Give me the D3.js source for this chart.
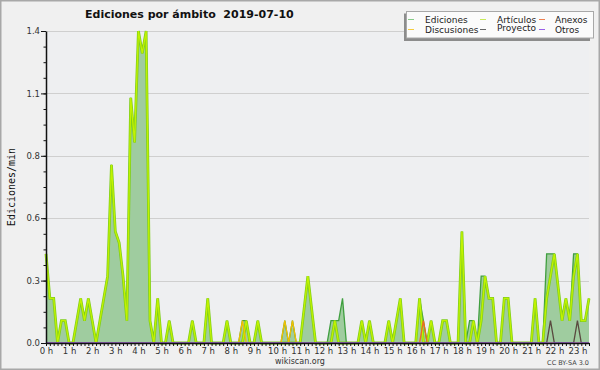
<!DOCTYPE html>
<html>
<head>
<meta charset="utf-8">
<script src="https://cdn.jsdelivr.net/npm/d3@7/dist/d3.min.js"></script>
<style>
  body { margin: 0; background: #f0f0f0; }
  svg { display: block; }
  text { font-family: "DejaVu Sans", sans-serif; }
</style>
</head>
<body>
<div id="chart"></div>
<script>
'use strict'

// ediciones/min por tramo de 10 minutos, de 0:00 a 23:30 (una fila = 4 horas)
let ediciones = [
  0.4,0.2,0.2,0,0.1,0.1, 0,0,0.1,0.2,0.1,0.2, 0.1,0,0.1,0.2,0.3,0.8, 0.5,0.45,0.3,0.1,1.1,0.9,
  1.4,1.3,1.4,0.1,0,0.2, 0,0,0.1,0,0,0, 0,0,0.1,0,0,0, 0.2,0,0,0,0,0.1,
  0,0,0,0.1,0.1,0, 0,0.1,0,0,0,0, 0,0,0.1,0,0.1,0, 0,0.15,0.3,0.15,0,0,
  0,0,0.1,0.1,0.1,0.2, 0,0,0,0,0.1,0, 0.1,0,0,0,0,0.1, 0,0.1,0.2,0,0,0,
  0,0.2,0.1,0,0.1,0, 0,0.1,0.1,0,0,0, 0.5,0,0.1,0.1,0,0.3, 0.3,0.2,0.2,0,0,0.2,
  0.2,0,0,0,0,0, 0,0.2,0,0,0.4,0.4, 0.4,0.25,0.1,0.2,0.1,0.4, 0.4,0.1,0.1,0.2
];
let articulos = [
  0.4,0.2,0.2,0,0.1,0.1, 0,0,0.1,0.2,0.1,0.2, 0.1,0,0.1,0.2,0.3,0.8, 0.5,0.45,0.3,0.1,1.1,0.9,
  1.4,1.3,1.4,0.1,0,0.2, 0,0,0.1,0,0,0, 0,0,0.1,0,0,0, 0.2,0,0,0,0,0.1,
  0,0,0,0,0.1,0, 0,0.1,0,0,0,0, 0,0,0,0,0,0, 0,0.15,0.3,0.15,0,0,
  0,0,0,0.1,0,0, 0,0,0,0,0.1,0, 0.1,0,0,0,0,0.1, 0,0.1,0.2,0,0,0,
  0,0.2,0,0,0.1,0, 0,0.1,0.1,0,0,0, 0.5,0,0,0.1,0,0.1, 0.3,0.2,0.2,0,0,0.2,
  0.2,0,0,0,0,0, 0,0.2,0,0,0.2,0.3, 0.4,0.25,0.1,0.2,0.1,0.3, 0.4,0.1,0.1,0.2
];
let anexos = [
  0,0,0,0,0,0, 0,0,0,0,0,0, 0,0,0,0,0,0, 0,0,0,0,0,0,
  0,0,0,0,0,0, 0,0,0,0,0,0, 0,0,0,0,0,0, 0,0,0,0,0,0,
  0,0,0,0,0,0, 0,0,0,0,0,0, 0,0,0,0,0,0, 0,0,0,0,0,0,
  0,0,0,0,0,0, 0,0,0,0,0,0, 0,0,0,0,0,0, 0,0,0,0,0,0,
  0,0,0.1,0,0,0, 0,0,0,0,0,0, 0,0,0,0,0,0, 0,0,0,0,0,0,
  0,0,0,0,0,0, 0,0,0,0,0,0, 0,0,0,0,0,0, 0,0,0,0
];
let discusiones = [
  0,0,0,0,0,0, 0,0,0,0,0,0, 0,0,0,0,0,0, 0,0,0,0,0,0,
  0,0,0,0,0,0, 0,0,0,0,0,0, 0,0,0,0,0,0, 0,0,0,0,0,0,
  0,0,0,0.1,0,0, 0,0,0,0,0,0, 0,0,0.1,0,0.1,0, 0,0,0,0,0,0,
  0,0,0,0,0,0, 0,0,0,0,0,0, 0,0,0,0,0,0, 0,0,0,0,0,0,
  0,0,0,0,0,0, 0,0,0,0,0,0, 0,0,0,0,0,0, 0,0,0,0,0,0,
  0,0,0,0,0,0, 0,0,0,0,0,0, 0,0,0,0,0,0, 0,0,0,0
];
let proyecto = [
  0,0,0,0,0,0, 0,0,0,0,0,0, 0,0,0,0,0,0, 0,0,0,0,0,0,
  0,0,0,0,0,0, 0,0,0,0,0,0, 0,0,0,0,0,0, 0,0,0,0,0,0,
  0,0,0,0,0,0, 0,0,0,0,0,0, 0,0,0,0,0,0, 0,0,0,0,0,0,
  0,0,0,0,0,0, 0,0,0,0,0,0, 0,0,0,0,0,0, 0,0,0,0,0,0,
  0,0,0,0,0,0, 0,0,0,0,0,0, 0,0,0,0,0,0, 0,0,0,0,0,0,
  0,0,0,0,0,0, 0,0,0,0,0,0.1, 0,0,0,0,0,0, 0.1,0,0,0
];
let otros = [
  0,0,0,0,0,0, 0,0,0,0,0,0, 0,0,0,0,0,0, 0,0,0,0,0,0,
  0,0,0,0,0,0, 0,0,0,0,0,0, 0,0,0,0,0,0, 0,0,0,0,0,0,
  0,0,0,0,0,0, 0,0,0,0,0,0, 0,0,0,0,0,0, 0,0,0,0,0,0,
  0,0,0,0,0,0, 0,0,0,0,0,0, 0,0,0,0,0,0, 0,0,0,0,0,0,
  0,0,0,0,0,0, 0,0,0,0,0,0, 0,0,0,0,0,0, 0,0,0,0,0,0,
  0,0,0,0,0,0, 0,0,0,0,0,0, 0,0,0,0,0,0, 0,0,0,0
];

let hours = d3.range(0, 24);
let hourLabels = hours.map(h => h + ' h');
let yTicks = [0, 0.28, 0.56, 0.84, 1.12, 1.4];
let yTickLabels = ['0.0', '0.3', '0.6', '0.8', '1.1', '1.4'];
let legendNames = ['Ediciones', 'Artículos', 'Anexos', 'Discusiones', 'Proyecto', 'Otros'];
let legendColors = ['#88cc88', '#c8ea5a', '#ee8050', '#f5cc40', '#666666', '#9a60e8'];

let width = 600, height = 370;
let margin = {top: 31, right: 11, bottom: 27, left: 46};

let svg = d3.select('#chart')
  .append('svg')
  .attr('width', width)
  .attr('height', height);

svg.append('rect')
  .attr('x', 0.75).attr('y', 0.75)
  .attr('width', width - 1.5).attr('height', height - 1.5)
  .attr('fill', '#f0f0f0')
  .attr('stroke', '#a8a8a8')
  .attr('stroke-width', 1.5);

// slot i = i*10 minutos
let slots = ediciones.map((d, i) => i / 6);

let x = d3.scaleLinear().domain([0, d3.max(slots)]).range([margin.left, width - margin.right]),
    y = d3.scaleLinear().domain([0, 1.4]).range([height - margin.bottom, margin.top]);

svg.append('rect')
  .attr('x', x(0)).attr('y', y(1.4))
  .attr('width', x.range()[1] - x(0)).attr('height', y(0) - y(1.4))
  .attr('fill', '#eeeff1');

// rejilla
svg.append('g')
  .selectAll('line')
  .data(yTicks.slice(1))
  .enter().append('line')
  .attr('x1', x(0)).attr('x2', x.range()[1])
  .attr('y1', d => Math.round(y(d)) + 0.5).attr('y2', d => Math.round(y(d)) + 0.5)
  .attr('stroke', '#cfcfcf')
  .attr('stroke-width', 1);

let area = d3.area()
  .x((d, i) => x(slots[i]))
  .y0(y(0))
  .y1(d => y(d));

let line = d3.line()
  .x((d, i) => x(slots[i]))
  .y(d => y(d));

svg.append('path')
  .datum(ediciones)
  .attr('d', area)
  .attr('fill', '#9fcc9f');

svg.append('path')
  .datum(ediciones)
  .attr('d', line)
  .attr('fill', 'none')
  .attr('stroke', '#3f9f3f')
  .attr('stroke-width', 1.3);

// artículos: trazo ancho con centro claro
svg.append('path')
  .datum(articulos)
  .attr('d', line)
  .attr('fill', 'none')
  .attr('stroke', '#7fcf1a')
  .attr('stroke-width', 2.8);
svg.append('path')
  .datum(articulos)
  .attr('d', line)
  .attr('fill', 'none')
  .attr('stroke', '#c2f200')
  .attr('stroke-width', 1.3);

let others = [
  {values: anexos, color: '#ee6a20'},
  {values: discusiones, color: '#f2c000'},
  {values: proyecto, color: '#5a4a40'},
  {values: otros, color: '#9a60e8'}
];
others.forEach(s => {
  svg.append('path')
    .datum(s.values)
    .attr('d', line)
    .attr('fill', 'none')
    .attr('stroke', s.color)
    .attr('stroke-width', 1.3);
});

// ejes
let yAxis = d3.axisLeft(y)
  .tickValues(yTicks)
  .tickFormat((d, i) => yTickLabels[i])
  .tickSize(5)
  .tickSizeOuter(0)
  .tickPadding(1);

let yMinor = d3.axisLeft(y)
  .tickValues(d3.range(0, 20).map(k => k * 0.07))
  .tickFormat('')
  .tickSize(2.5)
  .tickSizeOuter(0);

let xTicks = d3.axisBottom(x)
  .tickValues(slots)
  .tickFormat('')
  .tickSize(3)
  .tickSizeOuter(0);

let xLabels = d3.axisBottom(x)
  .tickValues(hours)
  .tickFormat((d, i) => hourLabels[i])
  .tickSize(0)
  .tickPadding(5);

let gy = svg.append('g')
  .attr('transform', 'translate(' + margin.left + ',0)')
  .call(yAxis);
gy.selectAll('text').attr('font-size', 8.5).attr('fill', '#333').style('font-family', '"DejaVu Sans", sans-serif');
gy.selectAll('line').attr('stroke', '#111');

let gym = svg.append('g')
  .attr('transform', 'translate(' + margin.left + ',0)')
  .call(yMinor);
gym.select('.domain').remove();
gym.selectAll('line').attr('stroke', '#111');

let gx = svg.append('g')
  .attr('transform', 'translate(0,' + y(0) + ')')
  .call(xTicks);
gx.selectAll('line').attr('stroke', '#111');
gx.select('.domain').attr('stroke', '#111').attr('stroke-width', 1.5);

let gxl = svg.append('g')
  .attr('transform', 'translate(0,' + y(0) + ')')
  .call(xLabels);
gxl.select('.domain').remove();
gxl.selectAll('text').attr('font-size', 8.5).attr('fill', '#333').style('font-family', '"DejaVu Sans", sans-serif');

gy.select('.domain').attr('stroke', '#111').attr('stroke-width', 1.5);

// títulos
svg.append('text')
  .attr('x', 85).attr('y', 18)
  .attr('font-size', 11)
  .attr('font-weight', 'bold')
  .attr('fill', '#111')
  .attr('xml:space', 'preserve')
  .style('white-space', 'pre')
  .text('Ediciones por ámbito  2019-07-10');

svg.append('text')
  .attr('transform', 'translate(15,' + (y(0) + y(1.4)) / 2 + ') rotate(-90)')
  .attr('text-anchor', 'middle')
  .style('font-family', '"DejaVu Sans Mono", monospace')
  .attr('font-size', 10)
  .attr('fill', '#111')
  .text('Ediciones/min');

svg.append('text')
  .attr('x', 300).attr('y', 364)
  .attr('text-anchor', 'middle')
  .attr('font-size', 8)
  .attr('fill', '#333')
  .text('wikiscan.org');

svg.append('text')
  .attr('x', 589).attr('y', 365)
  .attr('text-anchor', 'end')
  .attr('font-size', 6.5)
  .attr('fill', '#444')
  .text('CC BY-SA 3.0');

// leyenda
let legend = svg.append('g');
legend.append('rect')
  .attr('x', 404).attr('y', 13.5)
  .attr('width', 186).attr('height', 27.5)
  .attr('fill', '#8c8c8c');
legend.append('rect')
  .attr('x', 406.5).attr('y', 11.5)
  .attr('width', 187).attr('height', 26.5)
  .attr('fill', '#fbfbfb')
  .attr('stroke', '#a8a8a8');

let colLine = [408, 480, 539], colText = [425, 497, 555];
let items = legend.selectAll('.item')
  .data(legendNames)
  .enter().append('g')
  .attr('class', 'item');
items.append('line')
  .attr('x1', (d, i) => colLine[i % 3]).attr('x2', (d, i) => colLine[i % 3] + 6)
  .attr('y1', (d, i) => 19.5 + 10 * Math.floor(i / 3))
  .attr('y2', (d, i) => 19.5 + 10 * Math.floor(i / 3))
  .attr('stroke', (d, i) => legendColors[i])
  .attr('stroke-width', 1);
items.append('text')
  .attr('x', (d, i) => colText[i % 3])
  .attr('y', (d, i) => 22.8 + 10 * Math.floor(i / 3) - (d === 'Proyecto' ? 1.5 : 0))
  .attr('font-size', 9)
  .attr('fill', '#222')
  .text(d => d);
</script>
</body>
</html>
